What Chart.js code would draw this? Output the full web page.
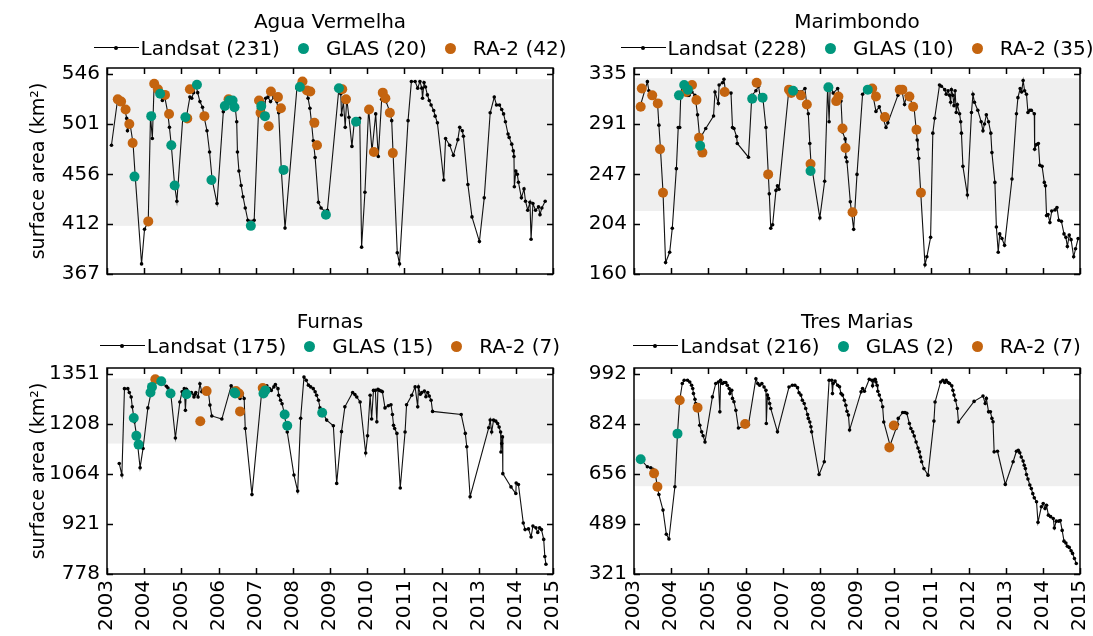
<!DOCTYPE html>
<html>
<head>
<meta charset="utf-8">
<script src="https://cdn.jsdelivr.net/npm/chart.js@4.4.1/dist/chart.umd.min.js"></script>
<style>
  body { margin: 0; background: #fff; }
  #page { position: relative; width: 1093px; height: 636px; overflow: hidden; font-family: 'DejaVu Sans', sans-serif; color: #000; }
  canvas { position: absolute; }
  .title, .legend { position: absolute; font-size: 20px; line-height: 24px; white-space: nowrap; }
  .title { text-align: center; }
  .legend { display: flex; justify-content: center; align-items: center; }
  .legend > span { flex: none; }
  .lsample { position: relative; width: 45px; height: 24px; margin-right: 2px; }
  .lsample::before { content: ''; position: absolute; left: 0; right: 0; top: 11px; border-top: 1.2px solid #000; }
  .lsample::after { content: ''; position: absolute; left: 20px; top: 10px; width: 4px; height: 4px; border-radius: 50%; background: #000; }
  .dot { width: 11px; height: 11px; border-radius: 50%; margin: 0 17px 0 18px; }
  .glas { background: #00977d; }
  .ra2 { background: #c4640f; }
</style>
</head>
<body>
<div id="page">
  <canvas id="c1" width="580" height="300" style="left:0;top:0"></canvas>
  <canvas id="c2" width="533" height="300" style="left:560px;top:0"></canvas>
  <canvas id="c3" width="580" height="336" style="left:0;top:300px"></canvas>
  <canvas id="c4" width="533" height="336" style="left:560px;top:300px"></canvas>

  <div class="title" style="left:107px;width:446px;top:9px">Agua Vermelha</div>
  <div class="legend" style="left:107px;width:446px;top:36px">
    <span class="lsample"></span><span>Landsat (231)</span>
    <span class="dot glas"></span><span>GLAS (20)</span>
    <span class="dot ra2"></span><span>RA-2 (42)</span>
  </div>

  <div class="title" style="left:634px;width:446px;top:9px">Marimbondo</div>
  <div class="legend" style="left:634px;width:446px;top:36px">
    <span class="lsample"></span><span>Landsat (228)</span>
    <span class="dot glas"></span><span>GLAS (10)</span>
    <span class="dot ra2"></span><span>RA-2 (35)</span>
  </div>

  <div class="title" style="left:107px;width:446px;top:309px">Furnas</div>
  <div class="legend" style="left:107px;width:446px;top:334px">
    <span class="lsample"></span><span>Landsat (175)</span>
    <span class="dot glas"></span><span>GLAS (15)</span>
    <span class="dot ra2"></span><span>RA-2 (7)</span>
  </div>

  <div class="title" style="left:634px;width:446px;top:309px">Tres Marias</div>
  <div class="legend" style="left:634px;width:446px;top:334px">
    <span class="lsample"></span><span>Landsat (216)</span>
    <span class="dot glas"></span><span>GLAS (2)</span>
    <span class="dot ra2"></span><span>RA-2 (7)</span>
  </div>
</div>
<script>
// year ticks (shared)
const yearTicks = [2003, 2004, 2005, 2006, 2007, 2008, 2009, 2010, 2011, 2012, 2013, 2014, 2015];

// ---- Agua Vermelha ----
const avTicks = [367, 412, 456, 501, 546];
const avBand = [410, 541];
const avLandsat = [
  [2003.12,482],[2003.29,524],[2003.40,521],[2003.47,516],[2003.53,506],[2003.55,495],[2003.62,501],[2003.70,484],[2003.76,454],[2003.93,376],
  [2004.01,407],[2004.11,414],[2004.17,508],[2004.22,488],[2004.24,508],[2004.27,538],[2004.32,533],[2004.43,528],[2004.49,522],[2004.56,524],
  [2004.63,512],[2004.68,498],[2004.73,482],[2004.82,446],[2004.88,432],[2005.04,507],[2005.13,506],[2005.23,525],[2005.28,524],[2005.33,529],
  [2005.39,536],[2005.44,529],[2005.50,521],[2005.57,516],[2005.62,506],[2005.69,495],[2005.76,476],[2005.83,451],[2005.96,430],[2006.13,512],
  [2006.21,524],[2006.29,522],[2006.38,522],[2006.45,516],[2006.49,503],[2006.51,476],[2006.55,459],[2006.61,446],[2006.66,436],[2006.72,426],
  [2006.79,415],[2006.96,415],[2007.08,515],[2007.13,523],[2007.19,521],[2007.22,508],[2007.27,524],[2007.33,525],[2007.40,521],[2007.49,525],
  [2007.57,521],[2007.62,511],[2007.69,460],[2007.79,408],[2008.11,533],[2008.16,537],[2008.26,533],[2008.36,531],[2008.41,524],[2008.46,515],
  [2008.50,503],[2008.55,486],[2008.60,471],[2008.69,431],[2008.76,426],[2008.86,423],[2008.93,424],[2009.24,533],[2009.29,528],[2009.31,509],
  [2009.36,521],[2009.41,498],[2009.45,524],[2009.51,507],[2009.59,481],[2009.66,505],[2009.80,506],[2009.85,391],[2009.94,440],[2010.04,515],
  [2010.13,477],[2010.23,510],[2010.30,472],[2010.39,523],[2010.51,521],[2010.62,511],[2010.66,504],[2010.81,386],[2010.87,376],[2011.10,504],
  [2011.19,539],[2011.29,539],[2011.36,533],[2011.42,539],[2011.47,533],[2011.49,524],[2011.53,538],[2011.57,534],[2011.62,527],[2011.67,522],
  [2011.72,518],[2011.79,513],[2011.83,508],[2011.89,502],[2012.06,451],[2012.11,488],[2012.22,482],[2012.32,473],[2012.44,487],[2012.49,498],
  [2012.56,495],[2012.59,490],[2012.71,447],[2012.82,418],[2013.02,396],[2013.15,435],[2013.31,511],[2013.42,525],[2013.48,518],[2013.56,518],
  [2013.62,514],[2013.67,510],[2013.72,503],[2013.79,492],[2013.82,489],[2013.89,483],[2013.93,477],[2013.95,472],[2013.96,445],[2014.00,459],
  [2014.04,456],[2014.07,449],[2014.15,435],[2014.22,443],[2014.26,432],[2014.32,424],[2014.38,431],[2014.41,398],[2014.46,430],[2014.53,424],
  [2014.61,427],[2014.65,420],[2014.70,426],[2014.79,432]
];
const avGlas = [
  [2003.74,454],[2004.19,508],[2004.43,528],[2004.73,482],[2004.82,446],[2005.11,507],[2005.42,536],[2005.81,451],[2006.17,517],[2006.29,522],
  [2006.38,522],[2006.43,516],[2006.87,410],[2007.15,517],[2007.25,508],[2007.75,460],[2008.19,534],[2008.89,420],[2009.24,533],[2009.70,503]
];
const avRa2 = [
  [2003.29,523],[2003.38,521],[2003.50,514],[2003.60,501],[2003.69,484],[2004.11,414],[2004.27,537],[2004.37,532],[2004.56,527],[2004.67,510],
  [2005.16,506],[2005.23,532],[2005.62,508],[2006.27,523],[2007.09,522],[2007.13,511],[2007.35,499],[2007.41,530],[2007.60,525],[2007.68,515],
  [2008.26,539],[2008.38,531],[2008.47,530],[2008.58,502],[2008.65,482],[2009.33,532],[2009.43,523],[2010.05,514],[2010.18,476],[2010.42,529],
  [2010.49,524],[2010.61,511],[2010.69,475]
];

// ---- Marimbondo ----
const mbTicks = [160, 204, 247, 291, 335];
const mbBand = [215, 331];
const mbLandsat = [
  [2003.18,308],[2003.36,328],[2003.40,320],[2003.49,317],[2003.63,311],[2003.67,290],[2003.71,270],[2003.78,232],[2003.85,170],[2003.96,179],
  [2004.03,200],[2004.14,252],[2004.19,288],[2004.23,288],[2004.26,318],[2004.30,325],[2004.37,322],[2004.43,316],[2004.48,316],[2004.56,319],
  [2004.64,316],[2004.71,299],[2004.77,278],[2004.93,287],[2005.14,298],[2005.18,319],[2005.27,309],[2005.29,325],[2005.38,327],[2005.42,330],
  [2005.46,320],[2005.61,318],[2005.65,288],[2005.69,287],[2005.76,280],[2005.78,274],[2006.08,262],[2006.17,316],[2006.28,320],[2006.35,324],
  [2006.39,316],[2006.46,316],[2006.55,288],[2006.64,230],[2006.68,200],[2006.73,203],[2006.82,233],[2006.86,237],[2006.90,234],[2007.17,322],
  [2007.31,322],[2007.49,319],[2007.60,322],[2007.65,307],[2007.69,300],[2007.73,274],[2007.76,258],[2008.00,209],[2008.13,241],[2008.21,323],
  [2008.25,293],[2008.28,325],[2008.36,318],[2008.48,322],[2008.57,311],[2008.61,284],[2008.68,278],[2008.70,262],[2008.73,258],[2008.82,223],
  [2008.91,199],[2009.00,247],[2009.15,317],[2009.27,322],[2009.39,323],[2009.51,302],[2009.60,306],[2009.78,288],[2009.83,292],[2010.10,316],
  [2010.19,323],[2010.28,308],[2010.33,316],[2010.41,313],[2010.53,307],[2010.62,277],[2010.64,269],[2010.66,261],[2010.83,168],[2010.88,175],
  [2010.98,192],[2011.04,283],[2011.09,296],[2011.22,325],[2011.27,324],[2011.36,321],[2011.40,317],[2011.45,320],[2011.49,316],[2011.52,310],
  [2011.54,321],[2011.58,316],[2011.61,307],[2011.64,320],[2011.67,301],[2011.70,308],[2011.76,300],[2011.79,293],[2011.81,283],[2011.85,254],
  [2011.97,229],[2012.08,301],[2012.12,317],[2012.16,310],[2012.25,303],[2012.34,293],[2012.39,285],[2012.43,291],[2012.48,299],[2012.54,293],
  [2012.60,283],[2012.63,266],[2012.71,240],[2012.75,201],[2012.80,179],[2012.84,195],[2012.90,191],[2012.97,185],[2013.17,243],[2013.29,300],
  [2013.33,314],[2013.39,322],[2013.43,319],[2013.47,329],[2013.51,320],[2013.56,317],[2013.60,301],[2013.65,303],[2013.69,303],[2013.77,300],
  [2013.78,269],[2013.83,273],[2013.88,274],[2013.92,255],[2013.98,254],[2014.04,240],[2014.07,237],[2014.10,211],[2014.14,212],[2014.19,205],
  [2014.24,215],[2014.33,216],[2014.38,218],[2014.43,207],[2014.50,206],[2014.57,195],[2014.62,192],[2014.66,184],[2014.71,194],[2014.76,190],
  [2014.83,175],[2014.88,182],[2014.95,191]
];
const mbGlas = [
  [2004.21,316],[2004.35,325],[2004.45,321],[2004.78,272],[2006.18,313],[2006.46,314],[2007.28,320],[2007.75,250],[2008.23,323],[2009.29,321]
];
const mbRa2 = [
  [2003.18,306],[2003.21,322],[2003.49,316],[2003.64,309],[2003.70,269],[2003.78,231],[2004.40,319],[2004.56,325],[2004.68,312],[2004.75,279],
  [2004.84,266],[2005.44,319],[2006.30,327],[2006.61,247],[2007.17,321],[2007.23,318],[2007.49,316],[2007.65,308],[2007.75,256],[2008.44,311],
  [2008.50,315],[2008.61,287],[2008.69,270],[2008.88,214],[2009.41,322],[2009.51,315],[2009.75,297],[2010.15,321],[2010.22,321],[2010.41,315],
  [2010.51,306],[2010.60,286],[2010.72,231]
];

// ---- Furnas ----
const fuTicks = [778, 921, 1064, 1208, 1351];
const fuBand = [1151, 1337];
const fuLandsat = [
  [2003.33,1094],[2003.40,1061],[2003.47,1308],[2003.56,1308],[2003.60,1297],[2003.65,1284],[2003.68,1256],[2003.74,1213],[2003.81,1163],[2003.89,1082],
  [2003.97,1137],[2004.10,1253],[2004.19,1299],[2004.28,1332],[2004.39,1332],[2004.51,1322],[2004.60,1315],[2004.64,1310],[2004.71,1299],[2004.84,1167],
  [2004.96,1270],[2005.02,1299],[2005.08,1308],[2005.11,1246],[2005.14,1306],[2005.18,1294],[2005.27,1297],[2005.34,1284],[2005.36,1291],[2005.39,1297],
  [2005.45,1284],[2005.50,1322],[2005.55,1299],[2005.63,1301],[2005.73,1297],[2005.77,1261],[2005.82,1230],[2006.09,1221],[2006.34,1316],[2006.40,1308],
  [2006.49,1301],[2006.54,1289],[2006.58,1280],[2006.64,1294],[2006.69,1280],[2006.72,1194],[2006.90,1005],[2007.17,1308],[2007.26,1310],[2007.30,1316],
  [2007.37,1308],[2007.42,1303],[2007.49,1313],[2007.53,1320],[2007.60,1308],[2007.62,1289],[2007.67,1275],[2007.71,1265],[2007.76,1242],[2007.85,1184],
  [2008.03,1061],[2008.13,1015],[2008.21,1223],[2008.30,1341],[2008.36,1332],[2008.42,1318],[2008.48,1313],[2008.55,1308],[2008.60,1299],[2008.64,1289],
  [2008.69,1275],[2008.73,1253],[2008.91,1218],[2009.09,1202],[2009.18,1037],[2009.31,1185],[2009.40,1256],[2009.61,1297],[2009.67,1291],[2009.72,1284],
  [2009.81,1270],[2009.96,1124],[2010.01,1173],[2010.08,1289],[2010.12,1221],[2010.17,1303],[2010.22,1303],[2010.26,1213],[2010.29,1306],[2010.33,1303],
  [2010.38,1301],[2010.41,1299],[2010.48,1253],[2010.57,1259],[2010.64,1262],[2010.68,1234],[2010.71,1203],[2010.74,1194],[2010.80,1180],[2010.89,1024],
  [2011.02,1184],[2011.06,1262],[2011.20,1289],[2011.29,1313],[2011.36,1256],[2011.38,1313],[2011.43,1292],[2011.47,1297],[2011.54,1301],[2011.58,1285],
  [2011.63,1297],[2011.67,1287],[2011.72,1275],[2011.76,1243],[2012.53,1234],[2012.64,1180],[2012.68,1142],[2012.77,999],[2013.27,1196],[2013.31,1218],
  [2013.35,1184],[2013.40,1218],[2013.46,1215],[2013.51,1208],[2013.55,1198],[2013.59,1184],[2013.60,1127],[2013.62,1151],[2013.64,1170],[2013.65,1065],
  [2013.87,1027],[2014.00,1008],[2014.01,1038],[2014.07,1034],[2014.20,924],[2014.25,905],[2014.34,907],[2014.41,884],[2014.46,915],[2014.54,910],
  [2014.59,897],[2014.64,910],[2014.69,905],[2014.75,877],[2014.78,828],[2014.81,806]
];
const fuGlas = [
  [2003.72,1224],[2003.79,1173],[2003.85,1148],[2004.17,1297],[2004.21,1313],[2004.46,1329],[2004.71,1294],[2005.14,1292],[2006.43,1297],[2006.45,1294],
  [2007.21,1294],[2007.26,1303],[2007.78,1234],[2007.85,1202],[2008.79,1239]
];
const fuRa2 = [
  [2004.30,1335],[2005.51,1215],[2005.68,1301],[2006.47,1301],[2006.55,1294],[2006.58,1243],[2007.19,1310]
];

// ---- Tres Marias ----
const tmTicks = [321, 489, 656, 824, 992];
const tmBand = [615, 906];
const tmLandsat = [
  [2003.18,705],[2003.36,680],[2003.45,677],[2003.51,672],[2003.57,658],[2003.63,613],[2003.67,587],[2003.78,535],[2003.87,454],[2003.94,438],
  [2004.10,613],[2004.17,791],[2004.23,903],[2004.30,959],[2004.35,970],[2004.44,970],[2004.50,964],[2004.55,953],[2004.58,942],[2004.60,925],
  [2004.64,906],[2004.66,892],[2004.71,881],[2004.77,819],[2004.82,797],[2004.86,784],[2004.91,763],[2005.11,914],[2005.20,959],[2005.27,964],
  [2005.31,864],[2005.33,970],[2005.38,959],[2005.42,962],[2005.47,962],[2005.51,953],[2005.56,942],[2005.58,925],[2005.63,936],[2005.65,909],
  [2005.69,898],[2005.74,869],[2005.81,810],[2006.08,821],[2006.28,975],[2006.33,959],[2006.38,953],[2006.44,959],[2006.50,947],[2006.55,936],
  [2006.56,825],[2006.59,920],[2006.62,909],[2006.65,892],[2006.68,875],[2006.86,797],[2007.17,947],[2007.26,953],[2007.33,953],[2007.40,945],
  [2007.44,928],[2007.49,920],[2007.53,903],[2007.58,892],[2007.62,875],[2007.67,855],[2007.69,842],[2007.73,830],[2007.76,814],[2007.78,797],
  [2007.98,654],[2008.12,697],[2008.25,970],[2008.32,970],[2008.34,925],[2008.36,959],[2008.41,967],[2008.48,953],[2008.53,948],[2008.57,925],
  [2008.61,920],[2008.66,903],[2008.70,886],[2008.73,866],[2008.77,853],[2008.80,803],[2009.11,931],[2009.15,942],[2009.20,933],[2009.33,973],
  [2009.40,970],[2009.42,951],[2009.45,970],[2009.49,973],[2009.51,964],[2009.54,953],[2009.56,933],[2009.60,920],[2009.65,903],[2009.69,881],
  [2009.72,830],[2009.89,752],[2010.05,808],[2010.09,822],[2010.11,842],[2010.23,862],[2010.29,862],[2010.34,859],[2010.41,825],[2010.45,808],
  [2010.50,797],[2010.54,783],[2010.59,763],[2010.64,743],[2010.68,730],[2010.71,713],[2010.74,697],[2010.80,674],[2010.91,652],[2011.07,833],
  [2011.10,897],[2011.25,964],[2011.31,970],[2011.36,962],[2011.40,970],[2011.45,962],[2011.49,959],[2011.55,951],[2011.58,936],[2011.61,920],
  [2011.65,903],[2011.70,875],[2011.73,830],[2012.15,899],[2012.39,917],[2012.45,892],[2012.48,909],[2012.54,864],[2012.59,864],[2012.63,842],
  [2012.66,831],[2012.69,730],[2012.78,732],[2012.99,621],[2013.20,697],[2013.29,732],[2013.34,735],[2013.38,727],[2013.42,713],[2013.47,699],
  [2013.50,685],[2013.53,674],[2013.56,654],[2013.60,639],[2013.65,619],[2013.69,607],[2013.73,590],[2013.77,576],[2013.83,563],[2013.87,494],
  [2013.96,546],[2014.01,557],[2014.06,540],[2014.10,551],[2014.15,518],[2014.21,513],[2014.28,507],[2014.31,475],[2014.36,498],[2014.43,498],
  [2014.47,500],[2014.52,467],[2014.57,431],[2014.62,425],[2014.66,414],[2014.71,410],[2014.76,399],[2014.80,390],[2014.85,373],[2014.90,356]
];
const tmGlas = [[2003.18,705],[2004.17,791]];
const tmRa2 = [[2003.54,658],[2003.63,613],[2004.23,903],[2004.71,878],[2005.99,823],[2009.87,745],[2009.99,818]];

// ---- drawing ----
const glasColor = '#00977d';
const ra2Color = '#c4640f';

Chart.defaults.font.family = 'DejaVu Sans';
Chart.defaults.font.size = 20;
Chart.defaults.color = '#000';

// grey band, frame and inward ticks
const framePlugin = {
  id: 'frame',
  beforeDatasetsDraw(chart, args, opts) {
    const {ctx, chartArea: a, scales: {y}} = chart;
    const top = y.getPixelForValue(opts.band[1]);
    const bot = y.getPixelForValue(opts.band[0]);
    ctx.save();
    ctx.fillStyle = '#efefef';
    ctx.fillRect(a.left, top, a.right - a.left, bot - top);
    ctx.restore();
  },
  afterDraw(chart) {
    const {ctx, chartArea: a, scales: {x, y}} = chart;
    ctx.save();
    ctx.strokeStyle = '#000';
    ctx.lineWidth = 1.5;
    ctx.strokeRect(a.left, a.top, a.right - a.left, a.bottom - a.top);
    ctx.beginPath();
    x.ticks.forEach(t => {
      const px = Math.round(x.getPixelForValue(t.value)) + 0.5;
      ctx.moveTo(px, a.bottom); ctx.lineTo(px, a.bottom - 6);
      ctx.moveTo(px, a.top); ctx.lineTo(px, a.top + 6);
    });
    y.ticks.forEach(t => {
      const py = Math.round(y.getPixelForValue(t.value)) + 0.5;
      ctx.moveTo(a.left, py); ctx.lineTo(a.left + 6, py);
      ctx.moveTo(a.right, py); ctx.lineTo(a.right - 6, py);
    });
    ctx.stroke();
    ctx.restore();
  }
};

const toPts = arr => arr.map(p => ({x: p[0], y: p[1]}));

const panels = [
  {id: 'c1', ticks: avTicks, band: avBand, landsat: avLandsat, glas: avGlas, ra2: avRa2, yWidth: 107, padRight: 27, xHeight: 26, xLabels: false, yTitle: true},
  {id: 'c2', ticks: mbTicks, band: mbBand, landsat: mbLandsat, glas: mbGlas, ra2: mbRa2, yWidth: 74, padRight: 13, xHeight: 26, xLabels: false, yTitle: false},
  {id: 'c3', ticks: fuTicks, band: fuBand, landsat: fuLandsat, glas: fuGlas, ra2: fuRa2, yWidth: 107, padRight: 27, xHeight: 62, xLabels: true, yTitle: true},
  {id: 'c4', ticks: tmTicks, band: tmBand, landsat: tmLandsat, glas: tmGlas, ra2: tmRa2, yWidth: 74, padRight: 13, xHeight: 62, xLabels: true, yTitle: false}
];

panels.forEach(p => {
  const lo = p.ticks[0], hi = p.ticks[p.ticks.length - 1];
  new Chart(document.getElementById(p.id), {
    type: 'scatter',
    data: {
      datasets: [
        {label: 'GLAS', data: toPts(p.glas), backgroundColor: glasColor, pointRadius: 5, pointBorderWidth: 0, order: 0},
        {label: 'RA-2', data: toPts(p.ra2), backgroundColor: ra2Color, pointRadius: 5, pointBorderWidth: 0, order: 1},
        {label: 'Landsat', data: toPts(p.landsat), showLine: true, borderColor: '#111', borderWidth: 1.1,
         backgroundColor: '#000', pointRadius: 1.8, pointBorderWidth: 0, order: 2}
      ]
    },
    options: {
      responsive: false,
      animation: false,
      devicePixelRatio: 1,
      layout: {padding: {left: 0, top: 68, right: p.padRight, bottom: 0}},
      plugins: {legend: {display: false}, tooltip: {enabled: false}, frame: {band: p.band}},
      scales: {
        x: {
          type: 'linear', min: 2003, max: 2015,
          grid: {display: false, drawTicks: false},
          border: {display: false},
          ticks: {display: p.xLabels, minRotation: 90, maxRotation: 90, padding: 6, autoSkip: false,
                  callback: v => String(v)},
          afterBuildTicks: s => { s.ticks = yearTicks.map(v => ({value: v})); },
          afterFit: s => { s.height = p.xHeight; s.paddingLeft = 0; s.paddingRight = 0; }
        },
        y: {
          type: 'linear', min: lo, max: hi + (hi - lo) * 0.028,
          grid: {display: false, drawTicks: false},
          border: {display: false},
          ticks: {padding: 7, autoSkip: false, callback: v => String(v)},
          title: {display: p.yTitle, text: 'surface area (km²)', font: {size: 19}, padding: {top: 28, bottom: 0}},
          afterBuildTicks: s => { s.ticks = p.ticks.map(v => ({value: v})); },
          afterFit: s => { s.width = p.yWidth; s.paddingTop = 0; s.paddingBottom = 0; }
        }
      }
    },
    plugins: [framePlugin]
  });
});
</script>
</body>
</html>
